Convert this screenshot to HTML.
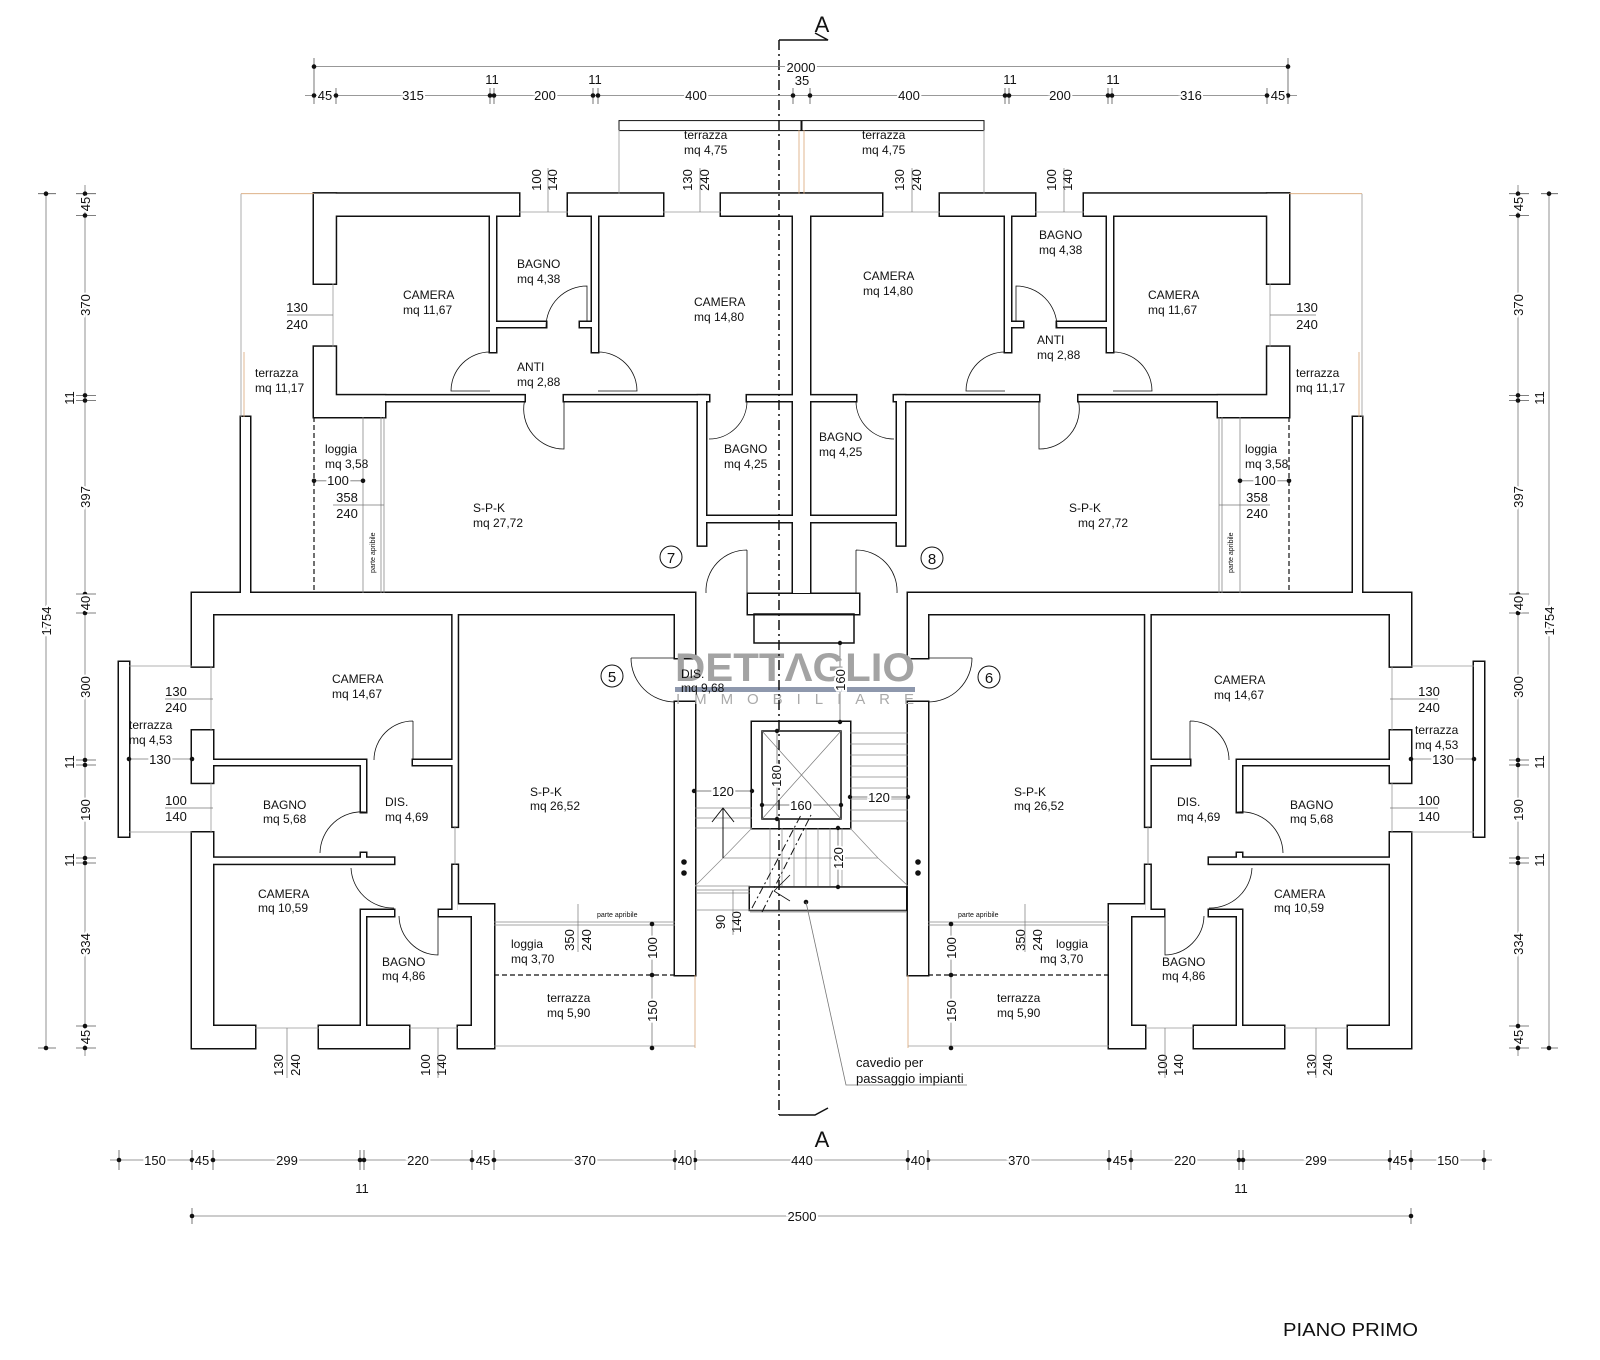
<!DOCTYPE html>
<html><head><meta charset="utf-8"><style>
html,body{margin:0;padding:0;background:#fff;}
svg{display:block;}
text{font-family:"Liberation Sans",Arial,sans-serif;fill:#111;}
.r{font-size:12px;}
.d{font-size:13px;}
.s{font-size:7px;}
</style></head><body>
<svg width="1600" height="1360" viewBox="0 0 1600 1360" xmlns="http://www.w3.org/2000/svg">
<defs>
<g id="walls">
  <rect x="314" y="193.7" width="205" height="21.8"/>
  <rect x="568" y="193.7" width="95" height="21.8"/>
  <rect x="721" y="193.7" width="80.5" height="21.8"/>
  <rect x="314" y="193.7" width="21.7" height="89.8"/>
  <rect x="314" y="346.8" width="21.7" height="70.2"/>
  <rect x="314" y="395.4" width="71" height="21.6"/>
  <rect x="490" y="215" width="6" height="137"/>
  <rect x="496" y="322" width="50" height="5"/>
  <rect x="580" y="322" width="12" height="5"/>
  <rect x="592" y="215" width="6" height="137"/>
  <rect x="335" y="395.4" width="189.5" height="5.6"/>
  <rect x="564" y="395.4" width="145" height="5.6"/>
  <rect x="747" y="395.4" width="55" height="5.6"/>
  <rect x="698" y="395.4" width="8" height="150"/>
  <rect x="706" y="516" width="87" height="6"/>
  <rect x="793" y="215" width="8.5" height="378"/>
  <rect x="241" y="417" width="9" height="176"/>
  <rect x="192" y="593" width="503" height="21"/>
  <rect x="192" y="593" width="21" height="73.4"/>
  <rect x="192" y="730.5" width="21" height="52.2"/>
  <rect x="192" y="832.5" width="21" height="215.5"/>
  <rect x="452.6" y="614" width="5.1" height="212.6"/>
  <rect x="452.6" y="865" width="5.1" height="51"/>
  <rect x="213" y="760" width="148" height="5"/>
  <rect x="413" y="760" width="40" height="5"/>
  <rect x="361" y="760" width="5" height="52"/>
  <rect x="361" y="853" width="5" height="5"/>
  <rect x="213" y="857.8" width="181" height="5.9"/>
  <rect x="361" y="910" width="33" height="6"/>
  <rect x="439" y="910" width="33" height="6"/>
  <rect x="361" y="910" width="5" height="116"/>
  <rect x="457.7" y="904.5" width="36.3" height="11.5"/>
  <rect x="472" y="904.5" width="22" height="143.5"/>
  <rect x="192" y="1026" width="63" height="22"/>
  <rect x="319" y="1026" width="90" height="22"/>
  <rect x="458" y="1026" width="36" height="22"/>
  <rect x="675" y="593" width="20" height="65"/>
  <rect x="675" y="702" width="20" height="273"/>
  <rect x="119" y="662" width="10" height="174.5"/>
</g>
<g id="thin" fill="none" stroke="#111" stroke-width="0.8">
  <path d="M546 327 A41 41 0 0 1 587 286 L587 322"/>
  <path d="M490 352 A39 39 0 0 0 451 391 L490 391"/>
  <path d="M598 352 A39 39 0 0 1 637 391 L598 391"/>
  <path d="M524.5 401 A40 40 0 0 0 564 449 L564 401"/>
  <path d="M747 401 A38 38 0 0 1 709 439"/>
  <path d="M747 550 A41 41 0 0 0 706 593 M747 550 L747 593"/>
  <line x1="314" y1="417" x2="314" y2="593" stroke-dasharray="5,3" stroke-width="1.2"/>
  <line x1="363" y1="417" x2="363" y2="593" stroke="#888"/>
  <line x1="381" y1="417" x2="381" y2="593" stroke="#888"/>
  <line x1="384" y1="417" x2="384" y2="593" stroke="#888"/>
  <line x1="241" y1="193.7" x2="314" y2="193.7" stroke="#d9a577"/>
  <line x1="241" y1="193.7" x2="241" y2="417" stroke="#999"/>
  <line x1="244" y1="352" x2="244" y2="417" stroke="#d9a577"/>
  <line x1="333" y1="283.5" x2="333" y2="346.8" stroke="#999"/>
  <line x1="519" y1="212" x2="568" y2="212" stroke="#999"/>
  <line x1="663" y1="212" x2="721" y2="212" stroke="#999"/>
  <rect x="619" y="120.6" width="182" height="10" stroke-width="1"/>
  <line x1="619" y1="130" x2="619" y2="193.7" stroke="#999"/>
  <line x1="799" y1="130" x2="799" y2="193.7" stroke="#d9a577"/>
  <path d="M413 721 A39 39 0 0 0 374 760 M413 721 L413 760"/>
  <path d="M366 812 A42 42 0 0 0 320 853"/>
  <path d="M351 868 A42 42 0 0 0 394 908"/>
  <path d="M399 916 A40 40 0 0 0 438 955 L438 916"/>
  <path d="M631 658 A44 44 0 0 0 675 702 M631 658 L675 658"/>
  <line x1="455" y1="826" x2="455" y2="865" stroke="#888"/>
  <line x1="494" y1="922" x2="675" y2="922" stroke="#888"/>
  <line x1="494" y1="925" x2="675" y2="925" stroke="#888"/>
  <line x1="494" y1="975" x2="675" y2="975" stroke-dasharray="5,3" stroke-width="1.2"/>
  <line x1="494" y1="1046" x2="695" y2="1046" stroke="#999"/>
  <line x1="695" y1="975" x2="695" y2="1048" stroke="#d9a577"/>
  <line x1="129" y1="666" x2="192" y2="666" stroke="#999"/>
  <line x1="129" y1="832" x2="192" y2="832" stroke="#999"/>
  <line x1="211" y1="666" x2="211" y2="730" stroke="#999"/>
  <line x1="211" y1="783" x2="211" y2="832" stroke="#999"/>
  <line x1="255" y1="1028" x2="319" y2="1028" stroke="#999"/>
  <line x1="409" y1="1028" x2="458" y2="1028" stroke="#999"/>
</g>
</defs>

<g fill="#111" stroke="#111" stroke-width="3">
  <use href="#walls"/>
  <use href="#walls" transform="matrix(-1 0 0 1 1603 0)"/>
  <rect x="748" y="594" width="111" height="20"/>
  <rect x="752" y="722" width="98" height="106"/>
  <rect x="750" y="887.7" width="156" height="22"/>
</g>
<g fill="#fff" stroke="none">
  <use href="#walls"/>
  <use href="#walls" transform="matrix(-1 0 0 1 1603 0)"/>
  <rect x="748" y="594" width="111" height="20"/>
  <rect x="752" y="722" width="98" height="106"/>
  <rect x="750" y="887.7" width="156" height="22"/>
</g>
<use href="#thin"/>
<use href="#thin" transform="matrix(-1 0 0 1 1603 0)"/>

<g fill="none" stroke="#111" stroke-width="1">
  <rect x="754" y="614" width="100" height="29" stroke-width="1.5"/>
  <rect x="762" y="731" width="79" height="88" stroke-width="1.5"/>
  <line x1="762" y1="731" x2="841" y2="819" stroke="#777" stroke-width="0.7"/>
  <line x1="841" y1="731" x2="762" y2="819" stroke="#777" stroke-width="0.7"/>
  <g stroke="#888" stroke-width="0.7">
    <line x1="850" y1="733" x2="908" y2="733"/><line x1="850" y1="744" x2="908" y2="744"/>
    <line x1="850" y1="755" x2="908" y2="755"/><line x1="850" y1="766" x2="908" y2="766"/>
    <line x1="850" y1="777" x2="908" y2="777"/><line x1="850" y1="788" x2="908" y2="788"/>
    <line x1="850" y1="799" x2="908" y2="799"/><line x1="850" y1="810" x2="908" y2="810"/>
    <line x1="850" y1="821" x2="908" y2="821"/>
    <line x1="695" y1="808" x2="752" y2="808"/><line x1="695" y1="818" x2="752" y2="818"/>
    <line x1="695" y1="828" x2="752" y2="828"/>
    <line x1="770" y1="828" x2="770" y2="886"/><line x1="782" y1="828" x2="782" y2="886"/>
    <line x1="794" y1="828" x2="794" y2="886"/><line x1="806" y1="828" x2="806" y2="886"/>
    <line x1="818" y1="828" x2="818" y2="886"/><line x1="830" y1="828" x2="830" y2="886"/>
    <line x1="842" y1="828" x2="842" y2="886"/>
    <line x1="723" y1="858" x2="878" y2="858"/>
    <line x1="695" y1="886" x2="723" y2="858"/>
    <line x1="908" y1="886" x2="878" y2="858"/>
    <line x1="850" y1="828" x2="878" y2="858"/>
    <line x1="752" y1="828" x2="723" y2="858"/>
    <line x1="695" y1="886" x2="750" y2="886"/>
    <line x1="697" y1="890" x2="750" y2="890"/>
    <line x1="697" y1="893" x2="750" y2="893"/>
    <line x1="697" y1="910" x2="906" y2="910"/>
    <line x1="750" y1="912" x2="906" y2="912"/>
  </g>
  <line x1="723" y1="858" x2="723" y2="808"/>
  <path d="M712 822 L723 808 L734 822"/>
  <path d="M790 875 L774 891 M774 891 L790 901" stroke-width="0.8"/>
  <line x1="752" y1="908" x2="801" y2="815" stroke-dasharray="8,3,2,3"/>
  <line x1="762" y1="912" x2="811" y2="815" stroke-dasharray="8,3,2,3"/>
  <g stroke="#555" stroke-width="0.7">
    <line x1="694" y1="791" x2="752" y2="791"/>
    <line x1="850" y1="797" x2="908" y2="797"/>
    <line x1="762" y1="805" x2="841" y2="805"/>
    <line x1="777" y1="731" x2="777" y2="819"/>
    <line x1="840" y1="643" x2="840" y2="722"/>
    <line x1="838" y1="828" x2="838" y2="887"/>
  </g>
</g>
<g fill="#111">
  <circle cx="694" cy="791" r="2.2"/><circle cx="752" cy="791" r="2.2"/>
  <circle cx="850" cy="797" r="2.2"/><circle cx="908" cy="797" r="2.2"/>
  <circle cx="762" cy="805" r="2.2"/><circle cx="841" cy="805" r="2.2"/>
  <circle cx="777" cy="731" r="2.2"/><circle cx="777" cy="819" r="2.2"/>
  <circle cx="840" cy="643" r="2.2"/><circle cx="840" cy="722" r="2.2"/>
  <circle cx="838" cy="828" r="2.2"/><circle cx="838" cy="887" r="2.2"/>
  <circle cx="806" cy="902" r="2.3"/>
  <circle cx="684" cy="862" r="2.8"/><circle cx="684" cy="873" r="2.8"/>
  <circle cx="918" cy="862" r="2.8"/><circle cx="918" cy="873" r="2.8"/>
</g>

<g>
  <text x="675" y="681" font-size="40" font-weight="bold" textLength="240" lengthAdjust="spacingAndGlyphs" style="fill:#a3a3a3">DETTΛGLIO</text>
  <rect x="675" y="687" width="240" height="5" fill="#8e98ad"/>
  <text x="676" y="704" font-size="15" textLength="238" lengthAdjust="spacing" style="fill:#aaaaaa">IMMOBILIARE</text>
</g>

<g fill="none" stroke="#111" stroke-width="1.5">
  <line x1="779" y1="40" x2="779" y2="1115" stroke-dasharray="10,4,2,4"/>
  <path d="M779 40 L828 40 L815 33"/>
  <path d="M779 1115 L815 1115 L828 1108"/>
</g>
<text x="822" y="32" font-size="22" text-anchor="middle">A</text>
<text x="822" y="1147" font-size="22" text-anchor="middle">A</text>
<path d="M806 902 L846 1085 L967 1085" fill="none" stroke="#777" stroke-width="0.8"/>
<text x="856" y="1067" class="d">cavedio per</text>
<text x="856" y="1083" class="d">passaggio impianti</text>

<g stroke="#777" stroke-width="0.8" fill="none">
  <line x1="314" y1="66.6" x2="1288" y2="66.6"/>
  <line x1="305" y1="95.5" x2="1297" y2="95.5"/>
  <line x1="85" y1="185" x2="85" y2="1056"/>
  <line x1="46" y1="193.7" x2="46" y2="1048"/>
  <line x1="1518" y1="185" x2="1518" y2="1056"/>
  <line x1="1549" y1="193.7" x2="1549" y2="1048"/>
  <line x1="110" y1="1160" x2="1492" y2="1160"/>
  <line x1="192" y1="1216" x2="1411" y2="1216"/>
  <line x1="314" y1="480.8" x2="363" y2="480.8"/>
  <line x1="1240" y1="480.8" x2="1289" y2="480.8"/>
  <line x1="129" y1="759" x2="192" y2="759"/>
  <line x1="1411" y1="759" x2="1474" y2="759"/>
  <line x1="652" y1="924" x2="652" y2="1048"/>
  <line x1="951" y1="924" x2="951" y2="1048"/>
</g>
<g stroke="#555" stroke-width="0.8">
  <path d="M314 58 V104 M336 88 V104 M490 88 V104 M494 88 V104 M593 88 V104 M598 88 V104 M793 88 V104 M810 88 V104 M1009 88 V104 M1005 88 V104 M1108 88 V104 M1112 88 V104 M1267 88 V104 M1288 58 V104"/>
  <path d="M76 193.7 H96 M76 215.5 H96 M76 395.4 H96 M76 400.5 H96 M76 594 H96 M76 613 H96 M76 760 H96 M76 765 H96 M76 858 H96 M76 863 H96 M76 1026 H96 M76 1048 H96 M38 193.7 H56 M38 1048 H56"/>
  <path d="M1509 193.7 H1529 M1509 215.5 H1529 M1509 395.4 H1529 M1509 400.5 H1529 M1509 594 H1529 M1509 613 H1529 M1509 760 H1529 M1509 765 H1529 M1509 858 H1529 M1509 863 H1529 M1509 1026 H1529 M1509 1048 H1529 M1541 193.7 H1558 M1541 1048 H1558"/>
  <path d="M119 1150 V1170 M192 1150 V1170 M213 1150 V1170 M360 1150 V1170 M364 1150 V1170 M472 1150 V1170 M494 1150 V1170 M675 1150 V1170 M695 1150 V1170 M908 1150 V1170 M928 1150 V1170 M1109 1150 V1170 M1131 1150 V1170 M1239 1150 V1170 M1243 1150 V1170 M1390 1150 V1170 M1411 1150 V1170 M1484 1150 V1170 M192 1208 V1224 M1411 1208 V1224"/>
</g>
<g fill="#111">
  <circle cx="314" cy="66.6" r="2.3"/><circle cx="1288" cy="66.6" r="2.3"/>
  <circle cx="314" cy="95.5" r="2.3"/><circle cx="336" cy="95.5" r="2.3"/><circle cx="490" cy="95.5" r="2.3"/><circle cx="494" cy="95.5" r="2.3"/><circle cx="593" cy="95.5" r="2.3"/><circle cx="598" cy="95.5" r="2.3"/><circle cx="793" cy="95.5" r="2.3"/><circle cx="810" cy="95.5" r="2.3"/><circle cx="1005" cy="95.5" r="2.3"/><circle cx="1009" cy="95.5" r="2.3"/><circle cx="1108" cy="95.5" r="2.3"/><circle cx="1112" cy="95.5" r="2.3"/><circle cx="1267" cy="95.5" r="2.3"/><circle cx="1288" cy="95.5" r="2.3"/>
  <circle cx="46" cy="193.7" r="2.3"/><circle cx="46" cy="1048" r="2.3"/><circle cx="1549" cy="193.7" r="2.3"/><circle cx="1549" cy="1048" r="2.3"/>
  <circle cx="85" cy="193.7" r="2.3"/><circle cx="85" cy="215.5" r="2.3"/><circle cx="85" cy="395.4" r="2.3"/><circle cx="85" cy="400.5" r="2.3"/><circle cx="85" cy="594" r="2.3"/><circle cx="85" cy="613" r="2.3"/><circle cx="85" cy="760" r="2.3"/><circle cx="85" cy="765" r="2.3"/><circle cx="85" cy="858" r="2.3"/><circle cx="85" cy="863" r="2.3"/><circle cx="85" cy="1026" r="2.3"/><circle cx="85" cy="1048" r="2.3"/>
  <circle cx="1518" cy="193.7" r="2.3"/><circle cx="1518" cy="215.5" r="2.3"/><circle cx="1518" cy="395.4" r="2.3"/><circle cx="1518" cy="400.5" r="2.3"/><circle cx="1518" cy="594" r="2.3"/><circle cx="1518" cy="613" r="2.3"/><circle cx="1518" cy="760" r="2.3"/><circle cx="1518" cy="765" r="2.3"/><circle cx="1518" cy="858" r="2.3"/><circle cx="1518" cy="863" r="2.3"/><circle cx="1518" cy="1026" r="2.3"/><circle cx="1518" cy="1048" r="2.3"/>
  <circle cx="119" cy="1160" r="2.3"/><circle cx="192" cy="1160" r="2.3"/><circle cx="213" cy="1160" r="2.3"/><circle cx="360" cy="1160" r="2.3"/><circle cx="364" cy="1160" r="2.3"/><circle cx="472" cy="1160" r="2.3"/><circle cx="494" cy="1160" r="2.3"/><circle cx="675" cy="1160" r="2.3"/><circle cx="695" cy="1160" r="2.3"/><circle cx="908" cy="1160" r="2.3"/><circle cx="928" cy="1160" r="2.3"/><circle cx="1109" cy="1160" r="2.3"/><circle cx="1131" cy="1160" r="2.3"/><circle cx="1239" cy="1160" r="2.3"/><circle cx="1243" cy="1160" r="2.3"/><circle cx="1390" cy="1160" r="2.3"/><circle cx="1411" cy="1160" r="2.3"/><circle cx="1484" cy="1160" r="2.3"/>
  <circle cx="192" cy="1216" r="2.3"/><circle cx="1411" cy="1216" r="2.3"/>
  <circle cx="314" cy="480.8" r="2.3"/><circle cx="363" cy="480.8" r="2.3"/><circle cx="1240" cy="480.8" r="2.3"/><circle cx="1289" cy="480.8" r="2.3"/>
  <circle cx="129" cy="759" r="2.3"/><circle cx="192" cy="759" r="2.3"/><circle cx="1411" cy="759" r="2.3"/><circle cx="1474" cy="759" r="2.3"/>
  <circle cx="652" cy="924" r="2.3"/><circle cx="652" cy="975" r="2.3"/><circle cx="652" cy="1048" r="2.3"/>
  <circle cx="951" cy="924" r="2.3"/><circle cx="951" cy="975" r="2.3"/><circle cx="951" cy="1048" r="2.3"/>
</g>

<g class="d" text-anchor="middle" stroke="#fff" stroke-width="4" paint-order="stroke">
  <text x="801" y="72">2000</text>
  <text x="802" y="85">35</text>
  <text x="325" y="100">45</text><text x="413" y="100">315</text><text x="492" y="84">11</text>
  <text x="545" y="100">200</text><text x="595" y="84">11</text><text x="696" y="100">400</text>
  <text x="909" y="100">400</text><text x="1010" y="84">11</text><text x="1060" y="100">200</text>
  <text x="1113" y="84">11</text><text x="1191" y="100">316</text><text x="1278" y="100">45</text>
  <text x="155" y="1165">150</text><text x="202" y="1165">45</text><text x="287" y="1165">299</text>
  <text x="418" y="1165">220</text><text x="483" y="1165">45</text><text x="585" y="1165">370</text>
  <text x="685" y="1165">40</text><text x="802" y="1165">440</text><text x="918" y="1165">40</text>
  <text x="1019" y="1165">370</text><text x="1120" y="1165">45</text><text x="1185" y="1165">220</text>
  <text x="1316" y="1165">299</text><text x="1400" y="1165">45</text><text x="1448" y="1165">150</text>
  <text x="362" y="1193">11</text><text x="1241" y="1193">11</text>
  <text x="802" y="1221">2500</text>
  <text x="338" y="485">100</text><text x="1265" y="485">100</text>
  <text x="160" y="764">130</text><text x="1443" y="764">130</text>
  <text x="723" y="796">120</text><text x="879" y="802">120</text><text x="801" y="810">160</text>
</g>
<g class="d" text-anchor="middle" stroke="#fff" stroke-width="4" paint-order="stroke">
  <text transform="translate(90,204) rotate(-90)">45</text>
  <text transform="translate(90,305) rotate(-90)">370</text>
  <text transform="translate(74,398) rotate(-90)">11</text>
  <text transform="translate(90,497) rotate(-90)">397</text>
  <text transform="translate(90,603) rotate(-90)">40</text>
  <text transform="translate(90,687) rotate(-90)">300</text>
  <text transform="translate(74,762) rotate(-90)">11</text>
  <text transform="translate(90,810) rotate(-90)">190</text>
  <text transform="translate(74,860) rotate(-90)">11</text>
  <text transform="translate(90,944) rotate(-90)">334</text>
  <text transform="translate(90,1037) rotate(-90)">45</text>
  <text transform="translate(51,621) rotate(-90)">1754</text>
  <text transform="translate(1523,204) rotate(-90)">45</text>
  <text transform="translate(1523,305) rotate(-90)">370</text>
  <text transform="translate(1544,398) rotate(-90)">11</text>
  <text transform="translate(1523,497) rotate(-90)">397</text>
  <text transform="translate(1523,603) rotate(-90)">40</text>
  <text transform="translate(1523,687) rotate(-90)">300</text>
  <text transform="translate(1544,762) rotate(-90)">11</text>
  <text transform="translate(1523,810) rotate(-90)">190</text>
  <text transform="translate(1544,860) rotate(-90)">11</text>
  <text transform="translate(1523,944) rotate(-90)">334</text>
  <text transform="translate(1523,1037) rotate(-90)">45</text>
  <text transform="translate(1554,621) rotate(-90)">1754</text>
  <text transform="translate(657,948) rotate(-90)">100</text>
  <text transform="translate(657,1011) rotate(-90)">150</text>
  <text transform="translate(956,948) rotate(-90)">100</text>
  <text transform="translate(956,1011) rotate(-90)">150</text>
  <text transform="translate(781,776) rotate(-90)">180</text>
  <text transform="translate(845,680) rotate(-90)">160</text>
  <text transform="translate(843,858) rotate(-90)">120</text>
</g>
<g class="d" text-anchor="middle">
  <text transform="translate(541,180) rotate(-90)">100</text><text transform="translate(557,180) rotate(-90)">140</text>
  <text transform="translate(692,180) rotate(-90)">130</text><text transform="translate(709,180) rotate(-90)">240</text>
  <text transform="translate(904,180) rotate(-90)">130</text><text transform="translate(921,180) rotate(-90)">240</text>
  <text transform="translate(1056,180) rotate(-90)">100</text><text transform="translate(1072,180) rotate(-90)">140</text>
  <text transform="translate(283,1065) rotate(-90)">130</text><text transform="translate(300,1065) rotate(-90)">240</text>
  <text transform="translate(430,1065) rotate(-90)">100</text><text transform="translate(446,1065) rotate(-90)">140</text>
  <text transform="translate(1167,1065) rotate(-90)">100</text><text transform="translate(1183,1065) rotate(-90)">140</text>
  <text transform="translate(1316,1065) rotate(-90)">130</text><text transform="translate(1332,1065) rotate(-90)">240</text>
  <text transform="translate(574,940) rotate(-90)">350</text><text transform="translate(591,940) rotate(-90)">240</text>
  <text transform="translate(1025,940) rotate(-90)">350</text><text transform="translate(1042,940) rotate(-90)">240</text>
  <text transform="translate(725,922) rotate(-90)">90</text><text transform="translate(741,922) rotate(-90)">140</text>
</g>
<g class="d" text-anchor="middle">
  <text x="297" y="312">130</text><text x="297" y="329">240</text>
  <text x="1307" y="312">130</text><text x="1307" y="329">240</text>
  <text x="347" y="502">358</text><text x="347" y="518">240</text>
  <text x="1257" y="502">358</text><text x="1257" y="518">240</text>
  <text x="176" y="696">130</text><text x="176" y="712">240</text>
  <text x="176" y="805">100</text><text x="176" y="821">140</text>
  <text x="1429" y="696">130</text><text x="1429" y="712">240</text>
  <text x="1429" y="805">100</text><text x="1429" y="821">140</text>
</g>
<g stroke="#777" stroke-width="0.7">
  <line x1="287" y1="315" x2="333" y2="315"/><line x1="1270" y1="315" x2="1316" y2="315"/>
  <line x1="333" y1="505" x2="384" y2="505"/><line x1="1219" y1="505" x2="1270" y2="505"/>
  <line x1="165" y1="699" x2="213" y2="699"/><line x1="165" y1="808" x2="213" y2="808"/>
  <line x1="1390" y1="699" x2="1438" y2="699"/><line x1="1390" y1="808" x2="1438" y2="808"/>
  <line x1="548" y1="168" x2="548" y2="212"/><line x1="700" y1="168" x2="700" y2="212"/>
  <line x1="912" y1="168" x2="912" y2="212"/><line x1="1064" y1="168" x2="1064" y2="212"/>
  <line x1="287" y1="1028" x2="287" y2="1078"/><line x1="438" y1="1028" x2="438" y2="1078"/>
  <line x1="1165" y1="1028" x2="1165" y2="1078"/><line x1="1316" y1="1028" x2="1316" y2="1078"/>
  <line x1="578" y1="904" x2="578" y2="952"/><line x1="1025" y1="904" x2="1025" y2="952"/>
  <line x1="733" y1="890" x2="733" y2="935"/>
</g>

<g class="r">
  <text x="403" y="299">CAMERA</text><text x="403" y="314">mq 11,67</text>
  <text x="517" y="268">BAGNO</text><text x="517" y="283">mq 4,38</text>
  <text x="694" y="306">CAMERA</text><text x="694" y="321">mq 14,80</text>
  <text x="517" y="371">ANTI</text><text x="517" y="386">mq 2,88</text>
  <text x="255" y="377">terrazza</text><text x="255" y="392">mq 11,17</text>
  <text x="724" y="453">BAGNO</text><text x="724" y="468">mq 4,25</text>
  <text x="325" y="453">loggia</text><text x="325" y="468">mq  3,58</text>
  <text x="473" y="512">S-P-K</text><text x="473" y="527">mq 27,72</text>
  <text x="684" y="139">terrazza</text><text x="684" y="154">mq 4,75</text>
  <text x="862" y="139">terrazza</text><text x="862" y="154">mq 4,75</text>
  <text x="863" y="280">CAMERA</text><text x="863" y="295">mq 14,80</text>
  <text x="1039" y="239">BAGNO</text><text x="1039" y="254">mq 4,38</text>
  <text x="1148" y="299">CAMERA</text><text x="1148" y="314">mq 11,67</text>
  <text x="1037" y="344">ANTI</text><text x="1037" y="359">mq 2,88</text>
  <text x="1296" y="377">terrazza</text><text x="1296" y="392">mq 11,17</text>
  <text x="819" y="441">BAGNO</text><text x="819" y="456">mq 4,25</text>
  <text x="1245" y="453">loggia</text><text x="1245" y="468">mq  3,58</text>
  <text x="1069" y="512">S-P-K</text><text x="1078" y="527">mq 27,72</text>
  <text x="332" y="683">CAMERA</text><text x="332" y="698">mq 14,67</text>
  <text x="263" y="809">BAGNO</text><text x="263" y="823">mq 5,68</text>
  <text x="385" y="806">DIS.</text><text x="385" y="821">mq 4,69</text>
  <text x="258" y="898">CAMERA</text><text x="258" y="912">mq 10,59</text>
  <text x="382" y="966">BAGNO</text><text x="382" y="980">mq 4,86</text>
  <text x="530" y="796">S-P-K</text><text x="530" y="810">mq 26,52</text>
  <text x="511" y="948">loggia</text><text x="511" y="963">mq 3,70</text>
  <text x="547" y="1002">terrazza</text><text x="547" y="1017">mq 5,90</text>
  <text x="129" y="729">terrazza</text><text x="129" y="744">mq 4,53</text>
  <text x="681" y="678">DIS.</text><text x="681" y="692">mq 9,68</text>
  <text x="1214" y="684">CAMERA</text><text x="1214" y="699">mq 14,67</text>
  <text x="1290" y="809">BAGNO</text><text x="1290" y="823">mq 5,68</text>
  <text x="1177" y="806">DIS.</text><text x="1177" y="821">mq 4,69</text>
  <text x="1274" y="898">CAMERA</text><text x="1274" y="912">mq 10,59</text>
  <text x="1162" y="966">BAGNO</text><text x="1162" y="980">mq 4,86</text>
  <text x="1014" y="796">S-P-K</text><text x="1014" y="810">mq 26,52</text>
  <text x="1056" y="948">loggia</text><text x="1040" y="963">mq 3,70</text>
  <text x="997" y="1002">terrazza</text><text x="997" y="1017">mq 5,90</text>
  <text x="1415" y="734">terrazza</text><text x="1415" y="749">mq 4,53</text>
</g>
<g class="s">
  <text x="597" y="917">parte apribile</text>
  <text x="958" y="917">parte apribile</text>
  <text transform="translate(375,573) rotate(-90)">parte apribile</text>
  <text transform="translate(1233,573) rotate(-90)">parte apribile</text>
</g>
<g fill="none" stroke="#111" stroke-width="1">
  <circle cx="671" cy="557" r="11"/><circle cx="932" cy="558" r="11"/>
  <circle cx="612" cy="676" r="11"/><circle cx="989" cy="677" r="11"/>
</g>
<g font-size="15" text-anchor="middle">
  <text x="671" y="563">7</text><text x="932" y="564">8</text>
  <text x="612" y="682">5</text><text x="989" y="683">6</text>
</g>
<text x="1283" y="1336" font-size="18.5" textLength="135" lengthAdjust="spacingAndGlyphs">PIANO PRIMO</text>
</svg>
</body></html>
